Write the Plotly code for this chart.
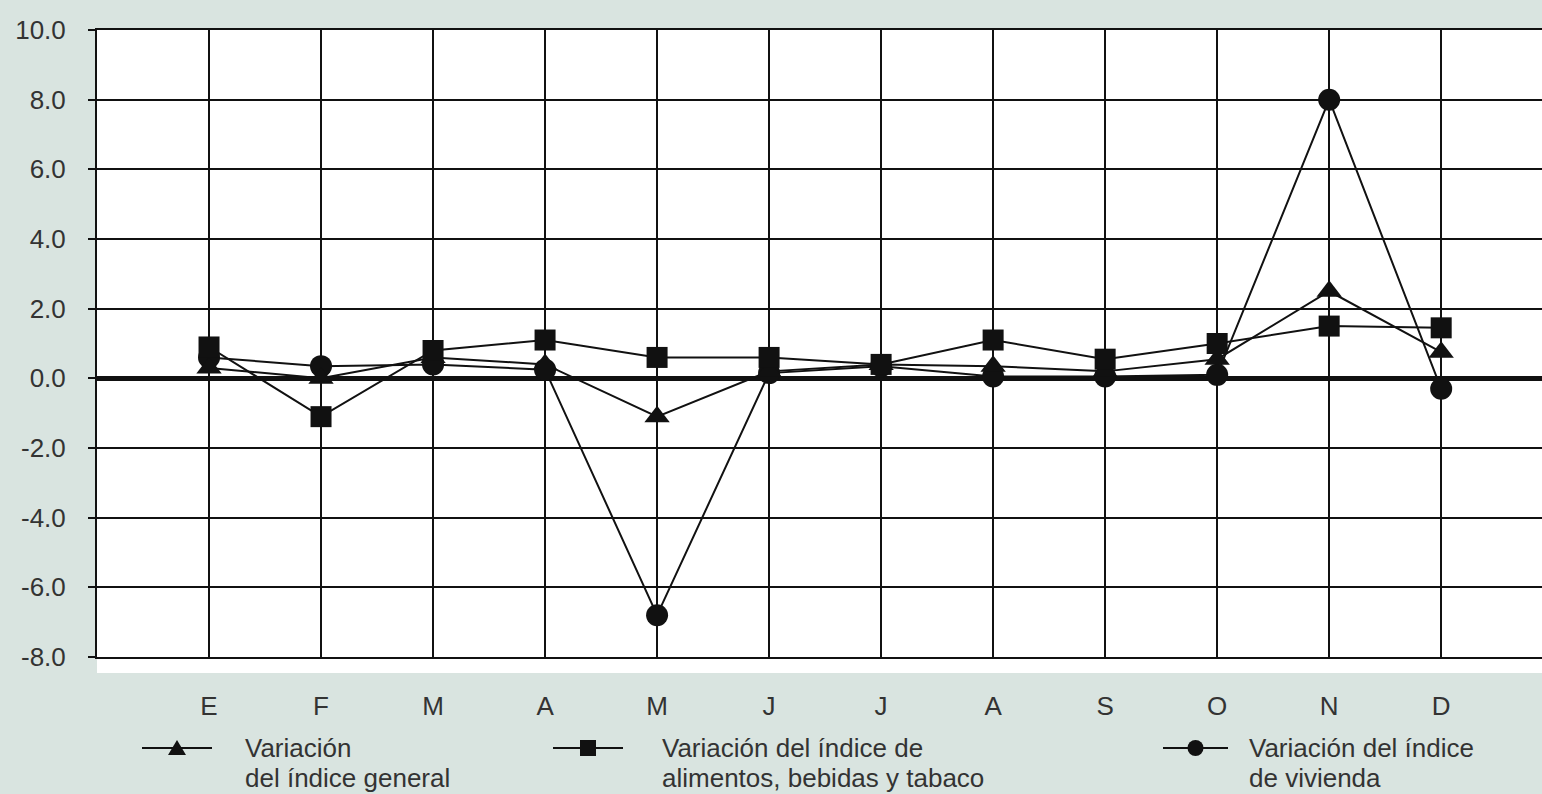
import plotly.graph_objects as go

# ---------------- data ----------------
months = ["E", "F", "M", "A", "M", "J", "J", "A", "S", "O", "N", "D"]
general = [0.3, 0.0, 0.6, 0.4, -1.1, 0.2, 0.4, 0.35, 0.2, 0.55, 2.5, 0.75]
alimentos = [0.9, -1.1, 0.8, 1.1, 0.6, 0.6, 0.4, 1.1, 0.55, 1.0, 1.5, 1.45]
vivienda = [0.6, 0.35, 0.4, 0.25, -6.8, 0.15, 0.35, 0.05, 0.05, 0.1, 8.0, -0.3]
y_ticks = [-8, -6, -4, -2, 0, 2, 4, 6, 8, 10]
y_labels = [f"{v:.1f}" for v in y_ticks]
legend_lines = [
    ("Variación", "del índice general"),
    ("Variación del índice de", "alimentos, bebidas y tabaco"),
    ("Variación del índice", "de vivienda"),
]

# ---------------- layout constants ----------------
W, H = 1542, 794
ML, MR, MT, MB = 97, 0, 30, 137
PW, PH = W - ML - MR, H - MT - MB
INK = "#111111"
TXT = "#333333"
BG = "#d9e4e0"
FONT = "Liberation Sans, Arial, sans-serif"

def px_x(px):
    return (px - ML) / PW

def px_y(py):
    return (H - MB - py) / PH

x_pos = list(range(len(months)))

fig = go.Figure()
series = [
    ("Variación del índice de vivienda", vivienda, "circle", 22),
    ("Variación del índice general", general, "triangle-up", 22),
    ("Variación del índice de alimentos, bebidas y tabaco", alimentos, "square", 21),
]
for name, vals, sym, size in series:
    fig.add_trace(go.Scatter(
        x=x_pos, y=vals, name=name, mode="lines+markers",
        line=dict(color=INK, width=2),
        marker=dict(symbol=sym, size=size, color=INK, line=dict(width=0)),
        showlegend=False,
    ))

shapes = []
# white strip below the bottom grid line
shapes.append(dict(type="rect", xref="paper", yref="paper", x0=0, x1=1,
                   y0=-16 / PH, y1=0, fillcolor="white", line=dict(width=0),
                   layer="below"))

# manual legend
legend_items = [
    (142, 212, 243, "triangle"),
    (553, 623, 660, "square"),
    (1163, 1228, 1247, "circle"),
]
annotations = []
ly1, ly2 = 748, 778
for (lx0, lx1, tx, sym), (t1, t2) in zip(legend_items, legend_lines):
    yc = px_y(ly1)
    shapes.append(dict(type="line", xref="paper", yref="paper",
                       x0=px_x(lx0), x1=px_x(lx1), y0=yc, y1=yc,
                       line=dict(color=INK, width=2)))
    xc = px_x((lx0 + lx1) / 2)
    if sym == "square":
        shapes.append(dict(type="rect", xref="paper", yref="paper",
                           xsizemode="pixel", ysizemode="pixel",
                           xanchor=xc, yanchor=yc, x0=-8, x1=8, y0=-8, y1=8,
                           fillcolor=INK, line=dict(width=0)))
    elif sym == "circle":
        shapes.append(dict(type="circle", xref="paper", yref="paper",
                           xsizemode="pixel", ysizemode="pixel",
                           xanchor=xc, yanchor=yc, x0=-8, x1=8, y0=-8, y1=8,
                           fillcolor=INK, line=dict(width=0)))
    else:
        shapes.append(dict(type="path", xref="paper", yref="paper",
                           xsizemode="pixel", ysizemode="pixel",
                           xanchor=xc, yanchor=yc,
                           path="M -9,-7 L 9,-7 L 0,8 Z",
                           fillcolor=INK, line=dict(width=0)))
    for txt, yy in ((t1, ly1), (t2, ly2)):
        annotations.append(dict(text=txt, xref="paper", yref="paper",
                                x=px_x(tx), y=px_y(yy), xanchor="left",
                                yanchor="middle", showarrow=False,
                                font=dict(size=26, color=TXT, family=FONT)))

fig.update_layout(
    width=W, height=H,
    margin=dict(l=ML, r=MR, t=MT, b=MB, pad=0),
    paper_bgcolor=BG, plot_bgcolor="white",
    font=dict(family=FONT, size=26, color=TXT),
    shapes=shapes, annotations=annotations,
    showlegend=False,
    xaxis=dict(
        range=[-1, 11.9],
        tickvals=list(range(-1, len(months))),
        ticktext=[""] + months,
        showgrid=True, gridcolor=INK, gridwidth=2,
        zeroline=False, ticks="",
        showline=True, mirror=True, linecolor=INK, linewidth=2,
        tickfont=dict(size=26, color=TXT),
        ticklabelstandoff=25,
    ),
    yaxis=dict(
        range=[-8, 10],
        tickvals=y_ticks, ticktext=y_labels,
        showgrid=True, gridcolor=INK, gridwidth=2,
        zeroline=True, zerolinecolor=INK, zerolinewidth=5,
        ticks="outside", ticklen=7, tickwidth=2, tickcolor=INK,
        showline=True, linecolor=INK, linewidth=2,
        tickfont=dict(size=26, color=TXT),
        ticklabelstandoff=17,
    ),
)

fig.write_html(
    "out.html",
    config={"displayModeBar": False},
    post_script="document.body.style.margin='0';document.body.style.overflow='hidden';",
)
